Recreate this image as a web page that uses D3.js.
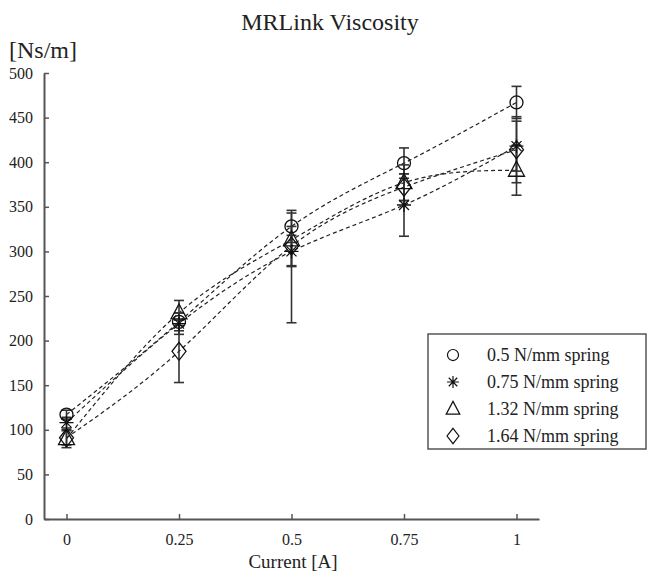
<!DOCTYPE html>
<html>
<head>
<meta charset="utf-8">
<script src="https://cdn.jsdelivr.net/npm/d3@7"></script>
<style>
  body { margin: 0; background: #fff; }
  svg { font-family: "Liberation Serif", "Times New Roman", serif; }
</style>
</head>
<body>
<div id="chart"></div>
<script>
// data
var current = [0, 0.25, 0.5, 0.75, 1];
var xTickLabels = ["0", "0.25", "0.5", "0.75", "1"];
var yTicks = [0, 50, 100, 150, 200, 250, 300, 350, 400, 450, 500];

var springNames = ["0.5 N/mm spring", "0.75 N/mm spring", "1.32 N/mm spring", "1.64 N/mm spring"];
var springMarkers = ["circle", "star", "triangle", "diamond"];

var visc05 = [117, 221, 328, 399, 467];
var visc075 = [108, 219, 300, 352, 418];
var visc132 = [90, 231, 313, 377, 391];
var visc164 = [91, 188, 306, 372, 414];

// error bar extents below / above each mean
var err05Lo = [5, 10, 18, 17, 18];
var err05Hi = [5, 10, 18, 17, 18];
var err075Lo = [6, 12, 80, 35, 28];
var err075Hi = [6, 12, 18, 35, 28];
var err132Lo = [10, 14, 30, 20, 28];
var err132Hi = [10, 14, 30, 20, 28];
var err164Lo = [8, 35, 22, 15, 37];
var err164Hi = [8, 35, 22, 15, 37];

var series = [
  {name: springNames[0], marker: springMarkers[0], y: visc05, lo: err05Lo, hi: err05Hi},
  {name: springNames[1], marker: springMarkers[1], y: visc075, lo: err075Lo, hi: err075Hi},
  {name: springNames[2], marker: springMarkers[2], y: visc132, lo: err132Lo, hi: err132Hi},
  {name: springNames[3], marker: springMarkers[3], y: visc164, lo: err164Lo, hi: err164Hi}
];

var W = 648, H = 575;
var svg = d3.select('#chart').append('svg')
    .attr('width', W)
    .attr('height', H);

var x = d3.scaleLinear().domain([-0.05, 1.05]).range([44, 539]);
var y = d3.scaleLinear().domain([0, 500]).range([519, 73]);

var axisColor = '#555';
var textColor = '#222';

// axes
var xAxis = svg.append('g')
    .attr('transform', 'translate(0,' + y(0) + ')')
    .call(d3.axisBottom(x)
        .tickValues(current)
        .tickFormat(function (d, i) { return xTickLabels[i]; })
        .tickSizeInner(-5)
        .tickSizeOuter(0)
        .tickPadding(15));

var yAxis = svg.append('g')
    .attr('transform', 'translate(' + x.range()[0] + ',0)')
    .call(d3.axisLeft(y)
        .tickValues(yTicks)
        .tickSizeInner(-5)
        .tickSizeOuter(0)
        .tickPadding(11));

[xAxis, yAxis].forEach(function (a) {
    a.attr('font-family', null);
    a.select('.domain').attr('stroke', axisColor).attr('stroke-width', 2);
    a.selectAll('.tick line').attr('stroke', axisColor).attr('stroke-width', 1.5);
    a.selectAll('.tick text')
        .attr('fill', textColor)
        .style('font-size', '16px')
        .style('font-family', '"Liberation Serif", serif');
});

// titles
svg.append('text')
    .attr('x', 330).attr('y', 30)
    .attr('text-anchor', 'middle')
    .attr('fill', textColor)
    .style('font-size', '24px')
    .text('MRLink Viscosity');

svg.append('text')
    .attr('x', 9).attr('y', 58)
    .attr('fill', textColor)
    .style('font-size', '24px')
    .text('[Ns/m]');

svg.append('text')
    .attr('x', 293).attr('y', 568)
    .attr('text-anchor', 'middle')
    .attr('fill', textColor)
    .style('font-size', '19px')
    .text('Current [A]');

// marker path generator
function markerPath(type, s) {
    s = s || 1;
    var p = d3.path();
    if (type === 'circle') {
        p.moveTo(6.5 * s, 0);
        p.arc(0, 0, 6.5 * s, 0, 2 * Math.PI);
    } else if (type === 'star') {
        var a = 7 * s, b = 5 * s;
        p.moveTo(-a, 0); p.lineTo(a, 0);
        p.moveTo(0, -a); p.lineTo(0, a);
        p.moveTo(-b, -b); p.lineTo(b, b);
        p.moveTo(-b, b); p.lineTo(b, -b);
    } else if (type === 'triangle') {
        p.moveTo(0, -9 * s);
        p.lineTo(8 * s, 6 * s);
        p.lineTo(-8 * s, 6 * s);
        p.closePath();
    } else if (type === 'diamond') {
        p.moveTo(0, -9 * s);
        p.lineTo(7 * s, 0);
        p.lineTo(0, 9 * s);
        p.lineTo(-7 * s, 0);
        p.closePath();
    }
    return p.toString();
}

var line = d3.line()
    .x(function (d) { return x(d.x); })
    .y(function (d) { return y(d.y); })
    .curve(d3.curveNatural);

function pts(s) {
    return current.map(function (c, i) {
        return {x: c, y: s.y[i], lo: s.y[i] - s.lo[i], hi: s.y[i] + s.hi[i]};
    });
}

// dashed lines
svg.append('g').selectAll('path')
    .data(series)
    .enter()
    .append('path')
    .attr('d', function (s) { return line(pts(s)); })
    .attr('fill', 'none')
    .attr('stroke', '#222')
    .attr('stroke-width', 1.2)
    .attr('stroke-dasharray', '4,3');

// error bars
var eb = svg.append('g')
    .attr('stroke', '#333')
    .attr('stroke-width', 1.6);

series.forEach(function (s) {
    var g = eb.append('g');
    var d = pts(s);
    g.selectAll('line.v').data(d).enter().append('line')
        .attr('x1', function (p) { return x(p.x); })
        .attr('x2', function (p) { return x(p.x); })
        .attr('y1', function (p) { return y(p.lo); })
        .attr('y2', function (p) { return y(p.hi); });
    g.selectAll('line.lo').data(d).enter().append('line')
        .attr('x1', function (p) { return x(p.x) - 5; })
        .attr('x2', function (p) { return x(p.x) + 5; })
        .attr('y1', function (p) { return y(p.lo); })
        .attr('y2', function (p) { return y(p.lo); });
    g.selectAll('line.hi').data(d).enter().append('line')
        .attr('x1', function (p) { return x(p.x) - 5; })
        .attr('x2', function (p) { return x(p.x) + 5; })
        .attr('y1', function (p) { return y(p.hi); })
        .attr('y2', function (p) { return y(p.hi); });
});

// markers
series.forEach(function (s) {
    svg.append('g').selectAll('path')
        .data(pts(s))
        .enter()
        .append('path')
        .attr('transform', function (p) { return 'translate(' + x(p.x) + ',' + y(p.y) + ')'; })
        .attr('d', markerPath(s.marker))
        .attr('fill', 'none')
        .attr('stroke', '#111')
        .attr('stroke-width', 1.3);
});

// legend
var leg = svg.append('g').attr('transform', 'translate(428,334)');
leg.append('rect')
    .attr('width', 218).attr('height', 115)
    .attr('fill', '#fff')
    .attr('stroke', axisColor)
    .attr('stroke-width', 1.5);

var items = leg.selectAll('g.item')
    .data(series)
    .enter()
    .append('g')
    .attr('class', 'item')
    .attr('transform', function (d, i) { return 'translate(0,' + (21 + i * 27) + ')'; });

items.append('path')
    .attr('transform', 'translate(25,0)')
    .attr('d', function (d) { return markerPath(d.marker, 0.85); })
    .attr('fill', 'none')
    .attr('stroke', '#111')
    .attr('stroke-width', 1.2);

items.append('text')
    .attr('x', 59).attr('y', 6)
    .attr('fill', textColor)
    .style('font-size', '18px')
    .text(function (d) { return d.name; });
</script>
</body>
</html>
